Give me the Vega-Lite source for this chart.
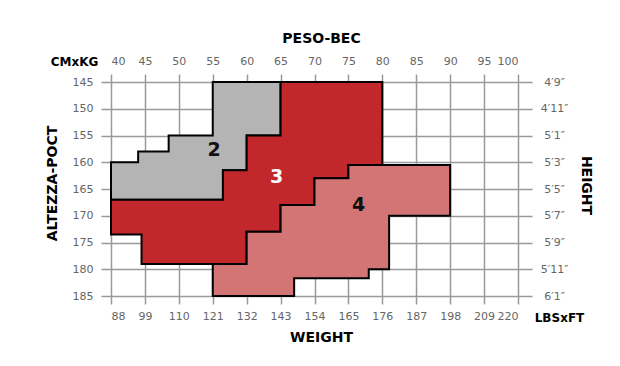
{
  "$schema": "https://vega.github.io/schema/vega-lite/v6.json",
  "autosize": {"type": "none"},
  "padding": {"left": 111, "top": 82, "right": 102, "bottom": 70},
  "width": 407,
  "height": 214,
  "background": "white",
  "config": {
    "view": {"stroke": null},
    "font": "DejaVu Sans",
    "axis": {
      "labelFont": "DejaVu Sans",
      "labelFontSize": 11,
      "labelColor": "#666666",
      "tickColor": "#999999",
      "tickWidth": 1.5,
      "gridColor": "#9a9a9a",
      "gridWidth": 1.5,
      "gridOpacity": 1,
      "domain": false,
      "titleFont": "DejaVu Sans",
      "titleFontWeight": "bold",
      "titleColor": "#000000",
      "titleAlign": "center",
      "titleBaseline": "middle"
    }
  },
  "datasets": {
    "poly": [
      {"size": "2", "i": 0, "kg": 55, "cm": 145},
      {"size": "2", "i": 1, "kg": 65, "cm": 145},
      {"size": "2", "i": 2, "kg": 65, "cm": 155},
      {"size": "2", "i": 3, "kg": 60, "cm": 155},
      {"size": "2", "i": 4, "kg": 60, "cm": 161.5},
      {"size": "2", "i": 5, "kg": 56.5, "cm": 161.5},
      {"size": "2", "i": 6, "kg": 56.5, "cm": 167},
      {"size": "2", "i": 7, "kg": 40, "cm": 167},
      {"size": "2", "i": 8, "kg": 40, "cm": 160},
      {"size": "2", "i": 9, "kg": 44, "cm": 160},
      {"size": "2", "i": 10, "kg": 44, "cm": 158},
      {"size": "2", "i": 11, "kg": 48.5, "cm": 158},
      {"size": "2", "i": 12, "kg": 48.5, "cm": 155},
      {"size": "2", "i": 13, "kg": 55, "cm": 155},
      {"size": "3", "i": 0, "kg": 65, "cm": 145},
      {"size": "3", "i": 1, "kg": 80, "cm": 145},
      {"size": "3", "i": 2, "kg": 80, "cm": 160.5},
      {"size": "3", "i": 3, "kg": 75, "cm": 160.5},
      {"size": "3", "i": 4, "kg": 75, "cm": 163},
      {"size": "3", "i": 5, "kg": 70, "cm": 163},
      {"size": "3", "i": 6, "kg": 70, "cm": 168},
      {"size": "3", "i": 7, "kg": 65, "cm": 168},
      {"size": "3", "i": 8, "kg": 65, "cm": 173},
      {"size": "3", "i": 9, "kg": 60, "cm": 173},
      {"size": "3", "i": 10, "kg": 60, "cm": 179},
      {"size": "3", "i": 11, "kg": 44.5, "cm": 179},
      {"size": "3", "i": 12, "kg": 44.5, "cm": 173.5},
      {"size": "3", "i": 13, "kg": 40, "cm": 173.5},
      {"size": "3", "i": 14, "kg": 40, "cm": 167},
      {"size": "3", "i": 15, "kg": 56.5, "cm": 167},
      {"size": "3", "i": 16, "kg": 56.5, "cm": 161.5},
      {"size": "3", "i": 17, "kg": 60, "cm": 161.5},
      {"size": "3", "i": 18, "kg": 60, "cm": 155},
      {"size": "3", "i": 19, "kg": 65, "cm": 155},
      {"size": "4", "i": 0, "kg": 55, "cm": 179},
      {"size": "4", "i": 1, "kg": 60, "cm": 179},
      {"size": "4", "i": 2, "kg": 60, "cm": 173},
      {"size": "4", "i": 3, "kg": 65, "cm": 173},
      {"size": "4", "i": 4, "kg": 65, "cm": 168},
      {"size": "4", "i": 5, "kg": 70, "cm": 168},
      {"size": "4", "i": 6, "kg": 70, "cm": 163},
      {"size": "4", "i": 7, "kg": 75, "cm": 163},
      {"size": "4", "i": 8, "kg": 75, "cm": 160.5},
      {"size": "4", "i": 9, "kg": 90, "cm": 160.5},
      {"size": "4", "i": 10, "kg": 90, "cm": 170},
      {"size": "4", "i": 11, "kg": 81, "cm": 170},
      {"size": "4", "i": 12, "kg": 81, "cm": 180},
      {"size": "4", "i": 13, "kg": 78, "cm": 180},
      {"size": "4", "i": 14, "kg": 78, "cm": 181.7},
      {"size": "4", "i": 15, "kg": 67, "cm": 181.7},
      {"size": "4", "i": 16, "kg": 67, "cm": 185},
      {"size": "4", "i": 17, "kg": 55, "cm": 185}
    ],
    "labels": [
      {"size": "2", "kg": 55.2, "cm": 157.8},
      {"size": "3", "kg": 64.4, "cm": 162.7},
      {"size": "4", "kg": 76.5, "cm": 167.9}
    ]
  },
  "layer": [
    {
      "data": {"name": "poly"},
      "transform": [{"filter": "datum.size == '2'"}],
      "mark": {"type": "line", "interpolate": "linear-closed", "fill": "#b4b4b4", "stroke": "#000000", "strokeWidth": 2, "strokeJoin": "miter"},
      "encoding": {
        "x": {
          "field": "kg", "type": "quantitative",
          "scale": {"domain": [40, 100], "nice": false, "zero": false},
          "axis": {
            "orient": "top", "values": [40, 45, 50, 55, 60, 65, 70, 75, 80, 85, 90, 95, 100],
            "grid": true, "tickSize": 8, "labelPadding": 8,
            "title": "CMxKG", "titleFontSize": 12, "titleAngle": 0, "titleX": -37, "titleY": -21
          }
        },
        "y": {
          "field": "cm", "type": "quantitative",
          "scale": {"domain": [145, 185], "reverse": true, "nice": false, "zero": false},
          "axis": {
            "orient": "left", "values": [145, 150, 155, 160, 165, 170, 175, 180, 185],
            "grid": true, "tickSize": 10, "labelPadding": 8,
            "title": "ALTEZZA-POCT", "titleFontSize": 14, "titleAngle": 270, "titleX": -59, "titleY": 101
          }
        },
        "order": {"field": "i", "type": "quantitative"}
      }
    },
    {
      "data": {"name": "poly"},
      "transform": [{"filter": "datum.size == '3'"}],
      "mark": {"type": "line", "interpolate": "linear-closed", "fill": "#c1272b", "stroke": "#000000", "strokeWidth": 2, "strokeJoin": "miter"},
      "encoding": {
        "x": {
          "field": "kg", "type": "quantitative",
          "scale": {"domain": [40, 100], "nice": false, "zero": false},
          "axis": {
            "orient": "bottom", "values": [40, 45, 50, 55, 60, 65, 70, 75, 80, 85, 90, 95, 100],
            "labelExpr": "format(datum.value * 2.2, 'd')",
            "grid": false, "tickSize": 8, "labelPadding": 6,
            "title": "LBSxFT", "titleFontSize": 12, "titleAngle": 0, "titleX": 448, "titleY": 21
          }
        },
        "y": {
          "field": "cm", "type": "quantitative",
          "scale": {"domain": [145, 185], "reverse": true, "nice": false, "zero": false},
          "axis": {
            "orient": "right", "values": [145, 150, 155, 160, 165, 170, 175, 180, 185],
            "labelExpr": "datum.value == 145 ? '4′9″' : datum.value == 150 ? '4′11″' : datum.value == 155 ? '5′1″' : datum.value == 160 ? '5′3″' : datum.value == 165 ? '5′5″' : datum.value == 170 ? '5′7″' : datum.value == 175 ? '5′9″' : datum.value == 180 ? '5′11″' : '6′1″'",
            "grid": false, "tickSize": 14, "labelPadding": 22, "labelAlign": "center",
            "title": "HEIGHT", "titleFontSize": 14, "titleAngle": 90, "titleX": 67, "titleY": 103
          }
        },
        "order": {"field": "i", "type": "quantitative"}
      }
    },
    {
      "data": {"name": "poly"},
      "transform": [{"filter": "datum.size == '4'"}],
      "mark": {"type": "line", "interpolate": "linear-closed", "fill": "#d47575", "stroke": "#000000", "strokeWidth": 2, "strokeJoin": "miter"},
      "encoding": {
        "x": {
          "field": "kg", "type": "quantitative",
          "scale": {"domain": [40, 100], "nice": false, "zero": false},
          "axis": {
            "orient": "bottom", "labels": false, "ticks": false, "grid": false,
            "title": "WEIGHT", "titleFontSize": 14, "titleAngle": 0, "titleX": 210, "titleY": 41
          }
        },
        "y": {
          "field": "cm", "type": "quantitative",
          "scale": {"domain": [145, 185], "reverse": true, "nice": false, "zero": false},
          "axis": null
        },
        "order": {"field": "i", "type": "quantitative"}
      }
    },
    {
      "data": {"name": "labels"},
      "mark": {"type": "text", "font": "DejaVu Sans", "fontSize": 19, "fontWeight": "bold", "align": "center", "baseline": "middle"},
      "encoding": {
        "x": {
          "field": "kg", "type": "quantitative",
          "scale": {"domain": [40, 100], "nice": false, "zero": false},
          "axis": {
            "orient": "top", "labels": false, "ticks": false, "grid": false,
            "title": "PESO-BEC", "titleFontSize": 14, "titleAngle": 0, "titleX": 210, "titleY": -44
          }
        },
        "y": {
          "field": "cm", "type": "quantitative",
          "scale": {"domain": [145, 185], "reverse": true, "nice": false, "zero": false},
          "axis": null
        },
        "text": {"field": "size", "type": "nominal"},
        "color": {
          "field": "size", "type": "nominal",
          "scale": {"domain": ["2", "3", "4"], "range": ["#111111", "#ffffff", "#111111"]},
          "legend": null
        }
      }
    }
  ],
  "resolve": {"axis": {"x": "independent", "y": "independent"}}
}
